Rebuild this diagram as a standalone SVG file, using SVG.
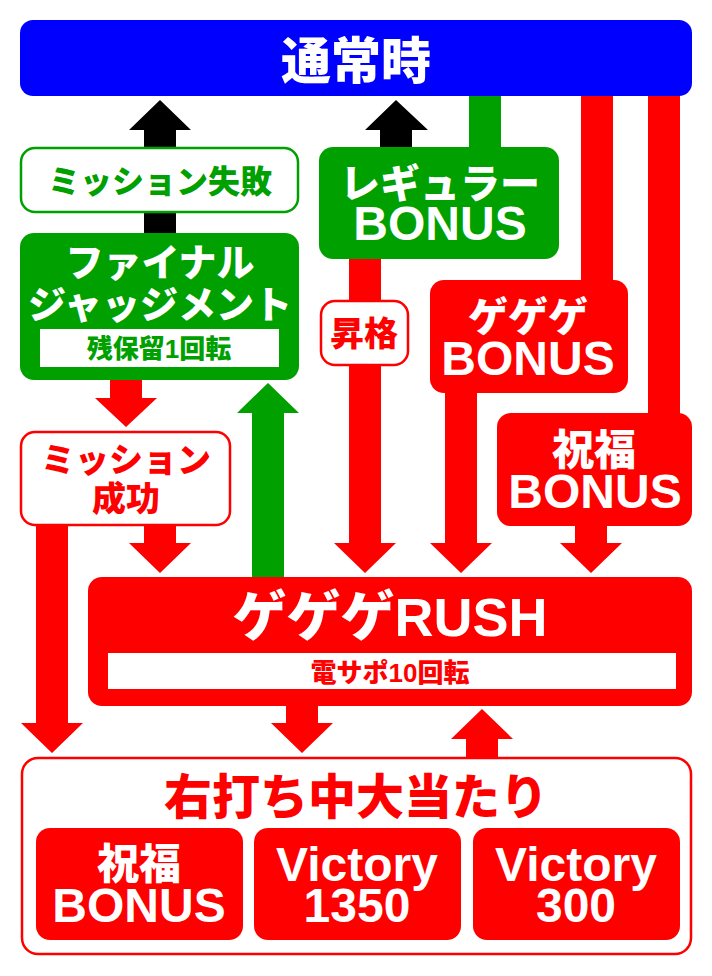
<svg xmlns="http://www.w3.org/2000/svg" width="712" height="976" viewBox="0 0 712 976">
<style>
.t{font-family:"Liberation Sans","Noto Sans CJK JP",sans-serif;font-weight:900;text-anchor:middle}
.j{font-family:"Noto Sans CJK JP",sans-serif;font-weight:900;text-anchor:middle}
.w{fill:#fff}.r{fill:#ff0000}.g{fill:#00a000}.b{fill:#000}
.rs{fill:#fff;stroke:#ff0000;stroke-width:2.5}
.gs{fill:#fff;stroke:#00a000;stroke-width:2.5}
</style>
<rect width="712" height="976" fill="#fff"/>
<g id="connectors">
  <polygon class="b" points="144,233 144,130 129,130 160,100 191,130 176,130 176,233"/>
  <polygon class="b" points="380,150 380,130 365,130 396,100 428,130 412,130 412,150"/>
  <rect class="g" x="469" y="90" width="32" height="60"/>
  <rect class="r" x="581" y="90" width="32" height="194"/>
  <rect class="r" x="648" y="90" width="32" height="327"/>
  <polygon class="r" points="349,255 349,543 334,543 365,573 396,543 381,543 381,255"/>
  <polygon class="r" points="445,390 445,543 430,543 461,573 492,543 477,543 477,390"/>
  <polygon class="r" points="575,522 575,543 560,543 591,573 622,543 607,543 607,522"/>
  <polygon class="r" points="110,376 110,398 95,398 126,427 157,398 142,398 142,376"/>
  <polygon class="r" points="144,522 144,543 129,543 160,573 191,543 176,543 176,522"/>
  <polygon class="g" points="252,582 252,413 237,413 268,383 299,413 284,413 284,582"/>
  <polygon class="r" points="36,522 36,723 21,723 52,753 83,723 68,723 68,522"/>
  <polygon class="r" points="286,702 286,723 271,723 302,753 333,723 318,723 318,702"/>
  <polygon class="r" points="466,760 466,739 451,739 482,709 513,739 498,739 498,760"/>
</g>
<g id="normal">
  <rect x="20" y="20" width="672" height="76" rx="13" fill="#0000ff"/>
  <text class="j w" x="356" y="79" font-size="50">通常時</text>
</g>
<g id="mission-fail">
  <rect class="gs" x="21" y="148" width="277" height="64" rx="14"/>
  <text class="j g" x="160" y="193" font-size="32">ミッション失敗</text>
</g>
<g id="regular-bonus">
  <rect class="g" x="319" y="147" width="240" height="112" rx="14"/>
  <text class="j w" x="440" y="198" font-size="40">レギュラー</text>
  <text class="t w" x="440" y="240" font-size="48">BONUS</text>
</g>
<g id="final-judgment">
  <rect class="g" x="20" y="233" width="279" height="147" rx="14"/>
  <text class="j w" x="160" y="276" font-size="38">ファイナル</text>
  <text class="j w" x="160" y="318" font-size="38">ジャッジメント</text>
  <rect class="w" x="40" y="329" width="239" height="38"/>
  <text class="t g" x="159" y="358" font-size="26">残保留1回転</text>
</g>
<g id="promotion">
  <rect class="rs" x="321" y="301" width="87" height="64" rx="14"/>
  <text class="j r" x="364" y="346" font-size="34">昇格</text>
</g>
<g id="gegege-bonus">
  <rect class="r" x="430" y="280" width="198" height="113" rx="14"/>
  <text class="j w" x="528" y="331" font-size="40">ゲゲゲ</text>
  <text class="t w" x="528" y="375" font-size="48">BONUS</text>
</g>
<g id="shukufuku-bonus">
  <rect class="r" x="497" y="413" width="195" height="113" rx="14"/>
  <text class="j w" x="594" y="465" font-size="42">祝福</text>
  <text class="t w" x="595" y="508" font-size="48">BONUS</text>
</g>
<g id="mission-success">
  <rect class="rs" x="21" y="432" width="209" height="93" rx="14"/>
  <text class="j r" x="126" y="472" font-size="34">ミッション</text>
  <text class="j r" x="126" y="511" font-size="34">成功</text>
</g>
<g id="gegege-rush">
  <rect class="r" x="88" y="577" width="604" height="129" rx="14"/>
  <text class="t w" x="390" y="636" font-size="54">ゲゲゲRUSH</text>
  <rect class="w" x="108" y="653" width="568" height="36"/>
  <text class="t r" x="390" y="682" font-size="26">電サポ10回転</text>
</g>
<g id="right-hit">
  <rect class="rs" x="22" y="758" width="669" height="196" rx="16"/>
  <text class="j r" x="356" y="814" font-size="48">右打ち中大当たり</text>
  <rect class="r" x="36" y="828" width="207" height="112" rx="14"/>
  <text class="j w" x="139" y="879" font-size="42">祝福</text>
  <text class="t w" x="139" y="922" font-size="48">BONUS</text>
  <rect class="r" x="254" y="828" width="207" height="112" rx="14"/>
  <text class="t w" x="357" y="881" font-size="48">Victory</text>
  <text class="t w" x="357" y="922" font-size="48">1350</text>
  <rect class="r" x="473" y="828" width="207" height="112" rx="14"/>
  <text class="t w" x="576" y="881" font-size="48">Victory</text>
  <text class="t w" x="576" y="922" font-size="48">300</text>
</g>
</svg>
